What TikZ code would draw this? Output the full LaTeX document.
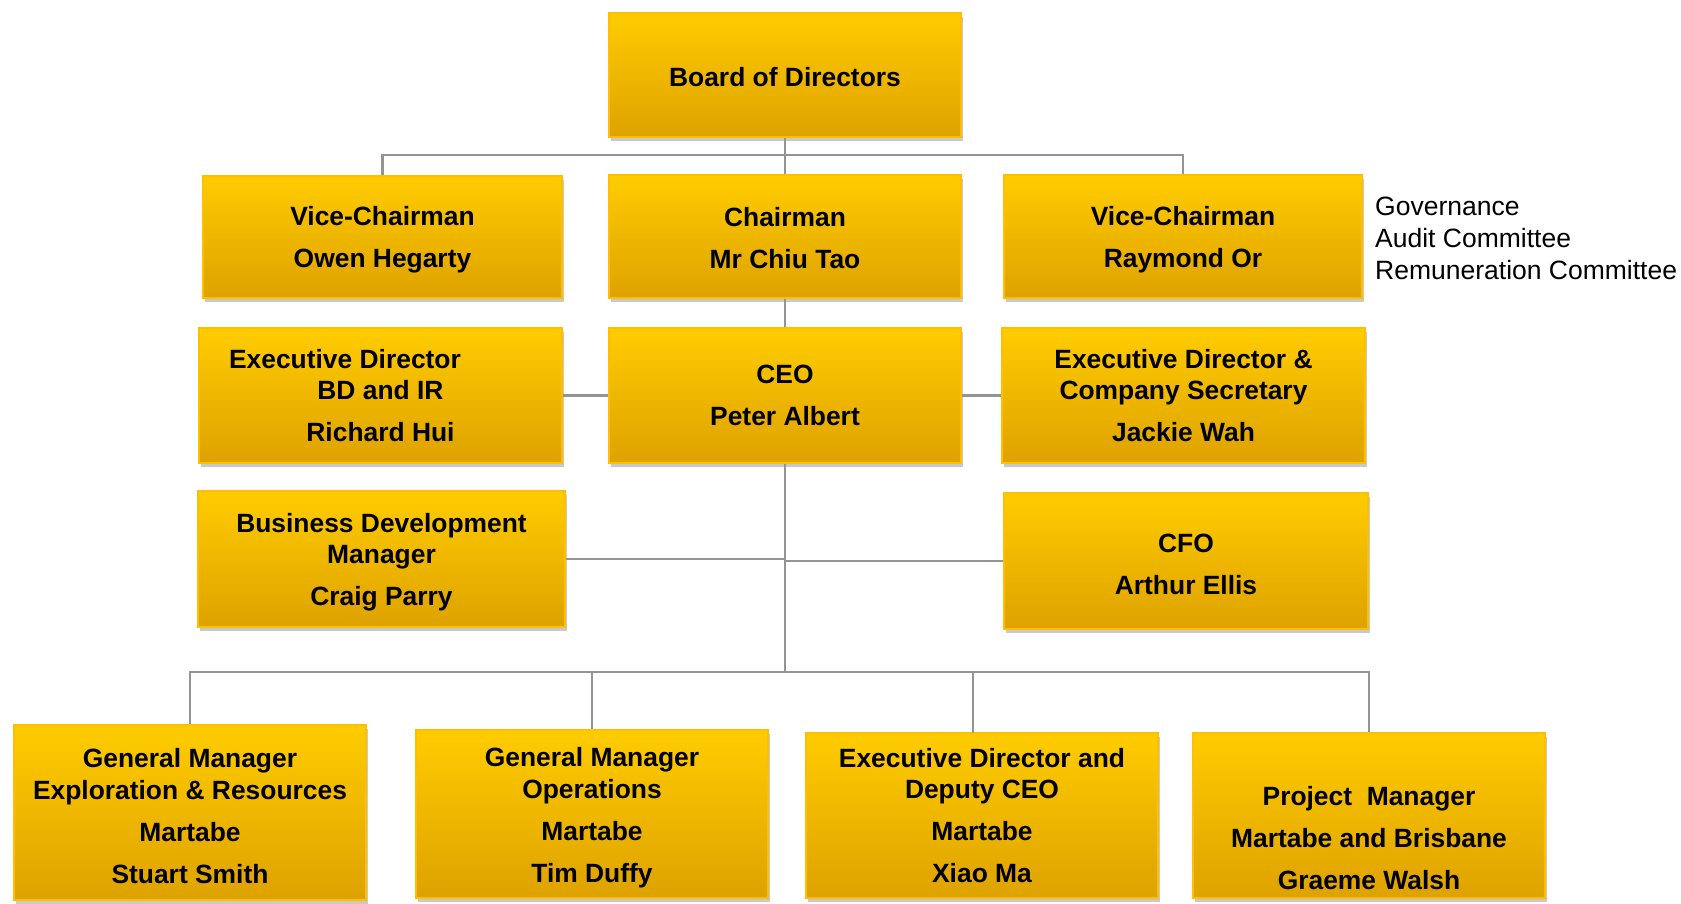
\documentclass[tikz,border=0pt]{standalone}
\usepackage{fontspec}
\setmainfont{Liberation Sans}
\usetikzlibrary{shadows,calc}
\definecolor{boxtop}{RGB}{255,204,0}
\definecolor{boxbot}{RGB}{222,162,0}
\definecolor{boxedge}{RGB}{255,190,0}
\definecolor{conncol}{RGB}{148,148,148}
\newcommand\orgstrut{\rule{0pt}{26pt}}
\newcommand\orgstruts{\rule{0pt}{23pt}}
\tikzset{
  orgbox/.style={draw=boxedge, line width=2pt, top color=boxtop, bottom color=boxbot,
    inner sep=0pt, align=center, text=black,
    font=\bfseries\fontsize{26.4}{31.5}\selectfont,
    drop shadow={shadow xshift=2pt, shadow yshift=-4pt, opacity=0.35, fill=black!60}},
  boxtext/.style={inner sep=0pt, align=center, text=black,
    font=\bfseries\fontsize{26.4}{31.5}\selectfont},
  conn/.style={draw=conncol, line width=2.6pt},
}
\begin{document}
\begin{tikzpicture}[x=1pt,y=-1pt]
\useasboundingbox[fill=white] (0,0) rectangle (1681,903);
% row 1
\node[orgbox, minimum width=352pt, minimum height=124pt] (board) at (785,75) {\orgstruts Board of Directors};
% row 2
\node[orgbox, minimum width=359pt, minimum height=122pt] (vcl) at (382.5,236.5) {\orgstrut Vice-Chairman\\[10.5pt]Owen Hegarty};
\node[orgbox, minimum width=352pt, minimum height=123pt] (chair) at (785,236.5) {\orgstruts Chairman\\[10.5pt]Mr Chiu Tao};
\node[orgbox, minimum width=358pt, minimum height=123pt] (vcr) at (1183,236.5) {\orgstrut Vice-Chairman\\[10.5pt]Raymond Or};
\node[anchor=north west, align=left, inner sep=0pt, font=\fontsize{26.5}{32}\selectfont] (cttee) at (1375,196.5) {Governance\\Audit Committee\\Remuneration Committee};
% row 3
\node[orgbox, minimum width=363pt, minimum height=135pt] (edl) at (380.5,395.5) {Executive Director\hspace*{71pt}\\BD and IR\\[10.5pt]Richard Hui};
\node[orgbox, minimum width=352pt, minimum height=135pt] (ceo) at (785,395.5) {CEO\\[10.5pt]Peter Albert};
\node[orgbox, minimum width=363pt, minimum height=135pt] (edr) at (1183.5,395.5) {Executive Director \&\\Company Secretary\\[10.5pt]Jackie Wah};
% row 4
\node[orgbox, minimum width=367pt, minimum height=136pt] (bdm) at (381.5,559) {\orgstrut Business Development\\Manager\\[10.5pt]Craig Parry};
\node[orgbox, minimum width=364pt, minimum height=136pt] (cfo) at (1186,561) {\orgstrut CFO\\[10.5pt]Arthur Ellis};
% row 5
\node[orgbox, minimum width=352pt, minimum height=175pt] (gm1) at (190,812.5) {\orgstrut General Manager\\Exploration \& Resources\\[10.5pt]Martabe\\[10.5pt]Stuart Smith};
\node[orgbox, minimum width=352pt, minimum height=168pt] (gm2) at (592,814) {\orgstrut General Manager\\Operations\\[10.5pt]Martabe\\[10.5pt]Tim Duffy};
\node[orgbox, minimum width=352pt, minimum height=165pt] (gm3) at (982,815.5) {Executive Director and\\Deputy CEO\\[10.5pt]Martabe\\[10.5pt]Xiao Ma};
\node[orgbox, minimum width=352pt, minimum height=165pt] (pm) at (1369,815.5) {};
\node[boxtext] (pmt) at ([yshift=-23pt]pm.center) {Project\ \ Manager\\[10.5pt]Martabe and Brisbane\\[10.5pt]Graeme Walsh};
% connectors
\coordinate (topbus) at (785,155);
\coordinate (lowbus) at (785,672);
\coordinate (gm3top) at (973,733);
\draw[conn] (board.south) -- (chair.north);
\draw[conn] (vcl.north) |- (topbus) -| (vcr.north);
\draw[conn] (chair.south) -- (ceo.north);
\draw[conn] (edl.east) -- (ceo.west);
\draw[conn] (ceo.east) -- (edr.west);
\draw[conn] (ceo.south) -- (lowbus);
\draw[conn] (bdm.east) -- (bdm.east -| ceo.south);
\draw[conn] (cfo.west) -- (cfo.west -| ceo.south);
\draw[conn] (gm1.north) |- (lowbus) -| (pm.north);
\draw[conn] (gm2.north) -- (gm2.north |- lowbus);
\draw[conn] (gm3top) -- (gm3top |- lowbus);
\end{tikzpicture}
\end{document}
